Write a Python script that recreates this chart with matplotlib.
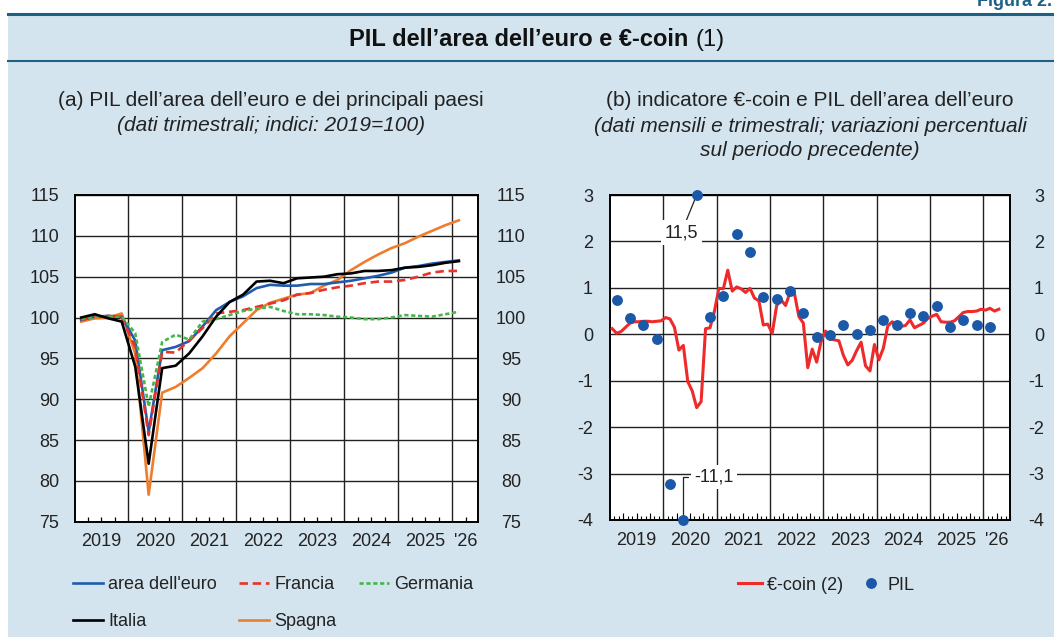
import numpy as np
import matplotlib.pyplot as plt
import matplotlib.transforms as mtransforms
from matplotlib.lines import Line2D
from matplotlib.patches import Rectangle

plt.rcParams['font.family'] = ['Liberation Sans', 'DejaVu Sans']

# --- data -------------------------------------------------------------
# (a) quarterly GDP, 2019Q1 - 2026Q1, index 2019=100
area_euro = [99.7, 100.1, 100.2, 100.1, 97.2, 86.0, 96.0, 96.4, 97.1, 98.9,
             100.9, 101.9, 102.6, 103.6, 104.0, 103.9, 103.9, 104.1, 104.1, 104.3,
             104.5, 104.8, 105.1, 105.5, 106.1, 106.3, 106.6, 106.8, 107.0]
francia = [99.7, 100.1, 100.2, 100.0, 96.4, 85.6, 95.8, 95.7, 97.2, 98.7,
           100.5, 100.7, 100.9, 101.3, 101.7, 102.1, 102.8, 103.0, 103.4, 103.7,
           103.9, 104.2, 104.4, 104.4, 104.6, 105.0, 105.5, 105.7, 105.7]
germania = [99.8, 100.1, 100.1, 100.1, 98.1, 89.1, 97.0, 97.9, 97.3, 99.5,
            99.8, 100.3, 100.8, 101.1, 101.3, 100.8, 100.4, 100.4, 100.3, 100.1,
            100.0, 99.8, 99.8, 100.0, 100.3, 100.2, 100.1, 100.4, 100.7]
italia = [100.0, 100.4, 99.9, 99.5, 94.0, 82.1, 93.8, 94.1, 95.6, 97.7,
          100.1, 101.9, 102.8, 104.4, 104.5, 104.2, 104.8, 104.9, 105.0, 105.3,
          105.4, 105.7, 105.7, 105.8, 106.1, 106.2, 106.4, 106.7, 106.9]
spagna = [99.5, 99.9, 100.0, 100.5, 95.6, 78.3, 90.8, 91.5, 92.6, 93.8,
          95.6, 97.7, 99.3, 100.9, 101.8, 102.3, 102.8, 103.0, 103.9, 104.6,
          105.8, 106.8, 107.7, 108.5, 109.1, 109.9, 110.6, 111.3, 111.9]

# (b) monthly €-coin, Jan 2019 - Apr 2026
ecoin = [0.12, 0.02, 0.06, 0.15, 0.24, 0.27, 0.27, 0.28, 0.28, 0.27, 0.28, 0.29,
         0.36, 0.33, 0.15, -0.34, -0.24, -1.02, -1.22, -1.58, -1.45, 0.12, 0.14, 0.50,
         0.99, 0.98, 1.38, 0.93, 1.02, 0.98, 0.90, 0.99, 0.78, 0.72, 0.20, 0.22,
         0.02, 0.62, 0.74, 0.62, 0.90, 0.88, 0.38, 0.24, -0.72, -0.32, -0.60, -0.15,
         0.07, -0.10, -0.12, -0.14, -0.45, -0.66, -0.56, -0.35, -0.17, -0.68, -0.79, -0.22,
         -0.55, -0.30, 0.18, 0.27, 0.17, 0.17, 0.19, 0.31, 0.14, 0.19, 0.24, 0.34,
         0.39, 0.43, 0.27, 0.26, 0.26, 0.29, 0.38, 0.47, 0.49, 0.49, 0.50, 0.54,
         0.52, 0.56, 0.50, 0.54]
# quarterly GDP, % change on previous quarter, 2019Q1 - 2026Q1
pil = [0.74, 0.36, 0.19, -0.10, -3.23, -11.1, 11.5, 0.37, 0.82, 2.16,
       1.77, 0.81, 0.75, 0.93, 0.46, -0.05, -0.02, 0.19, 0.01, 0.09,
       0.30, 0.21, 0.45, 0.39, 0.60, 0.16, 0.31, 0.21, 0.16]

anni = ['2019', '2020', '2021', '2022', '2023', '2024', '2025', "'26"]
anni_pos = [2019.5, 2020.5, 2021.5, 2022.5, 2023.5, 2024.5, 2025.5, 2026.25]

x_q = 2019 + (np.arange(len(area_euro)) + 0.5) / 4
x_m = 2019 + (np.arange(len(ecoin)) + 0.5) / 12

BG = '#d3e4ee'
TEAL = '#1d6184'
TXT = '#222222'
FS = 13
W, H = 1054, 637

fig = plt.figure(figsize=(W / 100, H / 100), dpi=100)
fig.patch.set_facecolor('white')
fig.add_artist(Rectangle((8 / W, 0), 1 - 8 / W, 1 - 14 / H, transform=fig.transFigure,
                         facecolor=BG, edgecolor='none', zorder=-10))
fig.add_artist(Line2D([8 / W, 1], [1 - 14 / H] * 2, color=TEAL, lw=2.2))
fig.add_artist(Line2D([8 / W, 1], [1 - 61 / H] * 2, color=TEAL, lw=1.5))

fig.text(1052 / W, 1 - 6 / H, 'Figura 2.', ha='right', va='baseline', fontsize=13,
         weight='bold', color=TEAL)

# title: bold part + regular "(1)", centred together
renderer = fig.canvas.get_renderer()
t1 = fig.text(0, 1 - 40 / H, 'PIL dell\u2019area dell\u2019euro e \u20ac-coin ', fontsize=17,
              weight='bold', va='center', color='#111111')
t2 = fig.text(0, 1 - 40 / H, '(1)', fontsize=17, va='center', color='#111111')
w1 = t1.get_window_extent(renderer).width
w2 = t2.get_window_extent(renderer).width
x0 = 537 - (w1 + w2) / 2
t1.set_x(x0 / W)
t2.set_x((x0 + w1) / W)

# panel subtitles
fig.text(271 / W, 1 - 100 / H, '(a) PIL dell\u2019area dell\u2019euro e dei principali paesi',
         ha='center', va='center', fontsize=15, color=TXT)
fig.text(271 / W, 1 - 125 / H, '(dati trimestrali; indici: 2019=100)', ha='center', va='center',
         fontsize=15, style='italic', color=TXT)
fig.text(810 / W, 1 - 100 / H, '(b) indicatore \u20ac-coin e PIL dell\u2019area dell\u2019euro',
         ha='center', va='center', fontsize=15, color=TXT)
fig.text(810 / W, 1 - 126 / H, '(dati mensili e trimestrali; variazioni percentuali',
         ha='center', va='center', fontsize=15, style='italic', color=TXT)
fig.text(810 / W, 1 - 151 / H, 'sul periodo precedente)', ha='center', va='center',
         fontsize=15, style='italic', color=TXT)

ax1 = fig.add_axes([74.5 / W, 1 - 521.7 / H, 403.5 / W, 326.7 / H])
ax2 = fig.add_axes([610 / W, 1 - 520 / H, 400 / W, 325 / H])


def style_axes(ax, yticks, pad_left, pad_right, right_ha):
    ax.set_facecolor('white')
    ax.set_xlim(2019, 2026.48)
    ax.set_ylim(yticks[0], yticks[-1])
    ax.set_yticks(yticks)
    ax.set_yticklabels([str(v) for v in yticks])
    ax.tick_params(axis='y', length=0, labelsize=FS, labelcolor=TXT,
                   labelleft=True, labelright=True, pad=pad_left)
    for t in ax.yaxis.get_major_ticks():
        t.label2.set_ha(right_ha)
        t.label2.set_x(1)
        t.label2.set_transform(ax.get_yaxis_transform() + mtransforms.ScaledTranslation(
            pad_right / 72, 0, fig.dpi_scale_trans))
    ax.set_xticks(np.arange(2020, 2027))
    ax.set_xticklabels([])
    ax.tick_params(axis='x', which='major', length=0)
    ax.grid(True, which='major', color=TXT, lw=1.0)
    ax.set_axisbelow(True)
    for s in ax.spines.values():
        s.set_color('black')
        s.set_linewidth(1.4)
    tr = mtransforms.blended_transform_factory(ax.transData, ax.transAxes)
    for p, lab in zip(anni_pos, anni):
        ax.text(p, -0.062, lab, transform=tr, ha='center', va='center', fontsize=FS,
                color=TXT)


style_axes(ax1, list(range(75, 116, 5)), 10.8, 23.8, 'center')
ax1.set_xticks(np.arange(2019.25, 2026.5, 0.25), minor=True)
ax1.tick_params(axis='x', which='minor', direction='in', length=3.5, width=0.9)

ax1.plot(x_q, spagna, color='#ee7d2d', lw=1.9, label='Spagna')
ax1.plot(x_q, area_euro, color='#1f5cab', lw=1.9, label='area dell\'euro')
ax1.plot(x_q, francia, color='#e8322b', lw=1.9, dashes=(3.2, 1.8), label='Francia')
ax1.plot(x_q, germania, color='#45b649', lw=1.9, dashes=(1.6, 1.0), label='Germania')
ax1.plot(x_q, italia, color='black', lw=1.9, label='Italia')

h, l = ax1.get_legend_handles_labels()
order = [1, 4, 2, 0, 3]
fig.legend([h[i] for i in order], [l[i] for i in order], ncol=3, frameon=False,
           loc='upper left', bbox_to_anchor=(73 / W, 1 - 576 / H), borderpad=0,
           borderaxespad=0, handlelength=1.66, handletextpad=0.28, columnspacing=1.25,
           labelspacing=1.1, prop={'size': FS}, labelcolor=TXT)

style_axes(ax2, list(range(-4, 4)), 12.2, 24.5, 'right')
ax2.set_xlim(2019, 2026.49)
ax2.set_xticks(np.arange(2019 + 1 / 12, 2026.5, 1 / 12), minor=True)
ax2.tick_params(axis='x', which='minor', direction='in', length=3, width=0.8)
sec = ax2.secondary_xaxis('bottom')
sec.set_xticks(np.arange(2019.25, 2026.5, 0.25))
sec.tick_params(direction='in', length=5, width=0.8, labelbottom=False)
sec.spines['bottom'].set_visible(False)

ax2.plot(x_m, ecoin, color='#ee2a2a', lw=2.2, label='\u20ac-coin (2)', zorder=3)
pil_shown = np.clip(pil, -4, 3)
ax2.plot(x_q, pil_shown, 'o', color='#1c58a8', ms=6.8, label='PIL', clip_on=False, zorder=4)

i_max = int(np.argmax(pil))
i_min = int(np.argmin(pil))
ax2.annotate(f'{pil[i_max]:.1f}'.replace('.', ','), xy=(x_q[i_max], pil_shown[i_max]),
             xytext=(-11, -27), textcoords='offset points', ha='center', va='center',
             fontsize=FS, color=TXT,
             bbox=dict(boxstyle='square,pad=0.2', fc='white', ec='none'),
             arrowprops=dict(arrowstyle='-', color=TXT, lw=0.9, shrinkA=0, shrinkB=3))
ax2.annotate(f'{pil[i_min]:.1f}'.replace('.', ','), xy=(x_q[i_min], pil_shown[i_min]),
             xytext=(8, 31), textcoords='offset points', ha='left', va='center',
             fontsize=FS, color=TXT,
             bbox=dict(boxstyle='square,pad=0.2', fc='white', ec='none'),
             arrowprops=dict(arrowstyle='-', color=TXT, lw=0.9, shrinkA=2, shrinkB=3,
                             connectionstyle='angle,angleA=0,angleB=90,rad=0'))

fig.legend(*ax2.get_legend_handles_labels(), ncol=2, frameon=False, loc='center left',
           bbox_to_anchor=(738 / W, 1 - 585 / H), borderpad=0, borderaxespad=0,
           handlelength=1.33, handletextpad=0.25, columnspacing=0.9, prop={'size': FS},
           labelcolor=TXT)

fig.savefig('out.png', dpi=100, facecolor=fig.get_facecolor())
